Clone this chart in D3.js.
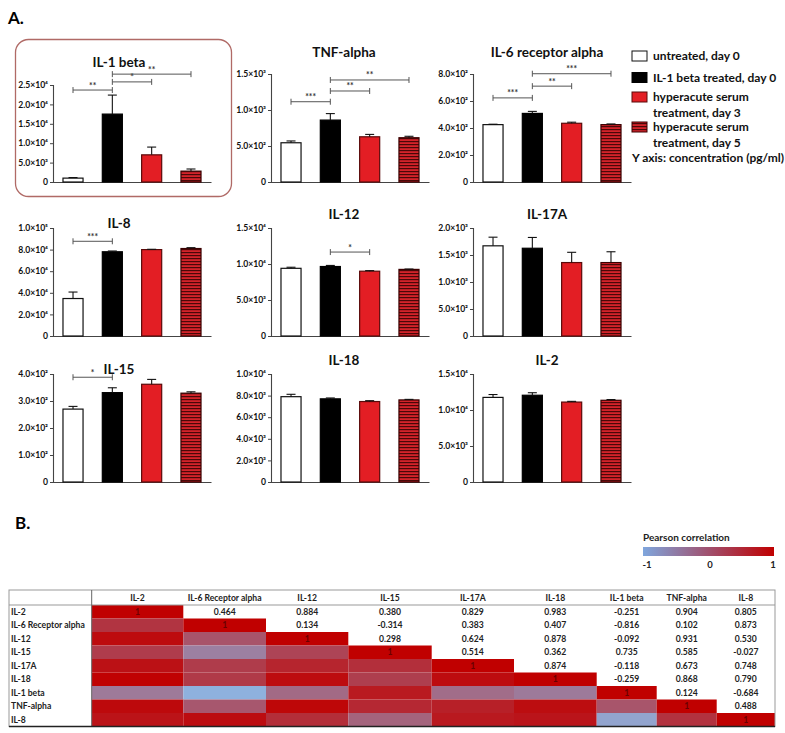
<!DOCTYPE html>
<html><head><meta charset="utf-8">
<script src="https://cdn.jsdelivr.net/npm/d3@7"></script>
<style>body{margin:0;background:#fff} svg{display:block;font-family:Lato,'Open Sans',sans-serif}</style>
</head><body><svg id="c" width="785" height="733"></svg>
<script>
// ---------------- DATA ----------------
const groups = ["untreated, day 0", "IL-1 beta treated, day 0", "hyperacute serum treatment, day 3", "hyperacute serum treatment, day 5"];
const cytokines = ["IL-1 beta", "TNF-alpha", "IL-6 receptor alpha", "IL-8", "IL-12", "IL-17A", "IL-15", "IL-18", "IL-2"];
const means = [
  [1000, 17500, 7000, 2800],
  [545, 860, 628, 615],
  [425, 508, 435, 425],
  [34700, 78000, 80000, 81000],
  [9400, 9650, 9000, 9250],
  [1670, 1625, 1360, 1360],
  [270, 331, 362, 329],
  [7900, 7700, 7450, 7600],
  [11750, 12050, 11100, 11350]
];
const errors = [
  [150, 4900, 2000, 550],
  [25, 90, 33, 20],
  [3, 15, 8, 5],
  [6000, 700, 300, 800],
  [150, 150, 80, 50],
  [160, 200, 190, 200],
  [10, 18, 18, 5],
  [220, 80, 80, 50],
  [400, 350, 100, 100]
];
const axisMax = [25000, 1500, 800, 100000, 15000, 2000, 400, 10000, 15000];
const tickStep = [5000, 500, 200, 20000, 5000, 500, 100, 2000, 5000];
const brackets = [
  {panel: 0, from: 0, to: 1, level: 23700, label: "**"},
  {panel: 0, from: 1, to: 2, level: 25800, label: "*"},
  {panel: 0, from: 1, to: 3, level: 27800, label: "**"},
  {panel: 1, from: 0, to: 1, level: 1115, label: "***"},
  {panel: 1, from: 1, to: 2, level: 1264, label: "**"},
  {panel: 1, from: 1, to: 3, level: 1417, label: "**"},
  {panel: 2, from: 0, to: 1, level: 623, label: "***"},
  {panel: 2, from: 1, to: 2, level: 710, label: "**"},
  {panel: 2, from: 1, to: 3, level: 802, label: "***"},
  {panel: 3, from: 0, to: 1, level: 87700, label: "***"},
  {panel: 4, from: 1, to: 2, level: 11660, label: "*"},
  {panel: 6, from: 0, to: 1, level: 388, label: "*"}
];
const legendLines = [["untreated, day 0"], ["IL-1 beta treated, day 0"], ["hyperacute serum", "treatment, day 3"], ["hyperacute serum", "treatment, day 5"]];
const yAxisNote = "Y axis: concentration (pg/ml)";

const corrLabels = ["IL-2", "IL-6 Receptor alpha", "IL-12", "IL-15", "IL-17A", "IL-18", "IL-1 beta", "TNF-alpha", "IL-8"];
const corrUpper = [
  [1, 0.464, 0.884, 0.380, 0.829, 0.983, -0.251, 0.904, 0.805],
  [1, 0.134, -0.314, 0.383, 0.407, -0.816, 0.102, 0.873],
  [1, 0.298, 0.624, 0.878, -0.092, 0.931, 0.530],
  [1, 0.514, 0.362, 0.735, 0.585, -0.027],
  [1, 0.874, -0.118, 0.673, 0.748],
  [1, -0.259, 0.868, 0.790],
  [1, 0.124, -0.684],
  [1, 0.488],
  [1]
];
const corrLegendTicks = [-1, 0, 1];

// ---------------- LAYOUT ----------------
const svg = d3.select("#c");
const colAxisX = [53, 271, 473];
const rowBase = [182, 336, 482];
const colTitleDX = [66, 73, 74];
const titleY = [[62, 52, 52], [223, 214, 214], [369, 360, 360]];
const fillColors = ["#ffffff", "#000000", "#e31e24", "url(#stripes)"];
const strokeColors = ["#111", "#000", "#5a0a0a", "#3a0000"];

const defs = svg.append("defs");
const pat = defs.append("pattern").attr("id", "stripes").attr("patternUnits", "userSpaceOnUse")
  .attr("width", 6).attr("height", 3);
pat.append("rect").attr("width", 6).attr("height", 3).attr("fill", "#d4232a");
pat.append("rect").attr("width", 6).attr("height", 1.2).attr("fill", "#4a0808");

// Headings
svg.append("text").attr("x", 8).attr("y", 24).attr("font-size", 17).attr("font-weight", 700).text("A.");
svg.append("text").attr("x", 15).attr("y", 529).attr("font-size", 17).attr("font-weight", 700).text("B.");

// highlight box around IL-1 beta
svg.append("rect").attr("x", 15.5).attr("y", 39.5).attr("width", 216).attr("height", 157)
  .attr("rx", 13).attr("fill", "none").attr("stroke", "#b06a66").attr("stroke-width", 1.3);

const sup = {"2": "\u00b2", "3": "\u00b3", "4": "\u2074", "5": "\u2075"};
function fmt(v) {
  if (v === 0) return "0";
  const e = Math.floor(Math.log10(v) + 1e-9);
  const m = v / Math.pow(10, e);
  return m.toFixed(1) + "\u00d710" + sup[e];
}

const scales = [];
cytokines.forEach((name, i) => {
  const col = i % 3, row = Math.floor(i / 3);
  const ax = colAxisX[col], base = rowBase[row];
  const h = i === 0 ? 97 : 108;
  const x = d3.scaleBand().domain(d3.range(4)).range([ax, ax + 158]).paddingInner(0.49).paddingOuter(0.254);
  const y = d3.scaleLinear().domain([0, axisMax[i]]).range([base, base - h]);
  scales.push({x, y});
  const g = svg.append("g");
  g.append("text").attr("x", ax + colTitleDX[col]).attr("y", titleY[row][col]).attr("dy", "0.35em")
    .attr("text-anchor", "middle").attr("font-size", 13.5).attr("font-weight", 700).attr("fill", "#111").text(name);
  const yAxis = d3.axisLeft(y).tickValues(d3.range(0, axisMax[i] + 1e-6, tickStep[i])).tickFormat(fmt).tickSize(3).tickPadding(2);
  const ya = g.append("g").attr("transform", `translate(${ax},0)`).call(yAxis);
  ya.select(".domain").attr("stroke", "#444").attr("stroke-width", 1.1);
  ya.selectAll(".tick line").attr("stroke", "#444");
  ya.selectAll(".tick text").attr("font-size", 8.6).attr("font-weight", 700).attr("fill", "#111")
    .attr("font-family", "Lato, 'Open Sans', sans-serif");
  const xAxis = d3.axisBottom(x).tickSize(0).tickFormat("");
  const xa = g.append("g").attr("transform", `translate(0,${base})`).call(xAxis);
  xa.select(".domain").attr("stroke", "#444").attr("stroke-width", 1.1);
  g.selectAll("rect.bar").data(means[i]).join("rect").attr("class", "bar")
    .attr("x", (d, k) => x(k)).attr("width", x.bandwidth())
    .attr("y", d => y(d)).attr("height", d => base - y(d))
    .attr("fill", (d, k) => fillColors[k]).attr("stroke", (d, k) => strokeColors[k]).attr("stroke-width", 1.2);
  means[i].forEach((m, k) => {
    const cx = x(k) + x.bandwidth() / 2;
    const top = y(m + errors[i][k]);
    g.append("line").attr("x1", cx).attr("x2", cx).attr("y1", y(m)).attr("y2", top).attr("stroke", "#111").attr("stroke-width", 1.1);
    g.append("line").attr("x1", cx - 4.5).attr("x2", cx + 4.5).attr("y1", top).attr("y2", top).attr("stroke", "#111").attr("stroke-width", 1.1);
  });
});

// significance brackets
brackets.forEach(b => {
  const {x, y} = scales[b.panel];
  const x1 = x(b.from) + x.bandwidth() / 2, x2 = x(b.to) + x.bandwidth() / 2, yy = y(b.level);
  const g = svg.append("g").attr("stroke", "#555").attr("stroke-width", 1);
  g.append("line").attr("x1", x1).attr("x2", x2).attr("y1", yy).attr("y2", yy);
  g.append("line").attr("x1", x1).attr("x2", x1).attr("y1", yy - 3).attr("y2", yy + 3);
  g.append("line").attr("x1", x2).attr("x2", x2).attr("y1", yy - 3).attr("y2", yy + 3);
  svg.append("text").attr("x", (x1 + x2) / 2).attr("y", yy - 1.5).attr("text-anchor", "middle")
    .attr("font-size", 8.5).attr("font-weight", 700).attr("fill", "#333").text(b.label);
});

// bar legend
const legY = [56, 77.5, 97, 127];
legendLines.forEach((lines, k) => {
  svg.append("rect").attr("x", 632).attr("y", legY[k] - 5).attr("width", 15).attr("height", 10)
    .attr("fill", fillColors[k]).attr("stroke", strokeColors[k]).attr("stroke-width", 1);
  const t = svg.append("text").attr("x", 653).attr("y", legY[k])
    .attr("font-size", 12).attr("font-weight", 700).attr("fill", "#111");
  lines.forEach((l, j) => t.append("tspan").attr("x", 653).attr("dy", j === 0 ? "0.35em" : "15.3").text(l));
});
svg.append("text").attr("x", 632).attr("y", 158).attr("dy", "0.35em").attr("font-size", 12)
  .attr("font-weight", 700).attr("fill", "#111").text(yAxisNote);

// ---------------- HEATMAP ----------------
const colEdges = [9, 91.7, 183.3, 266, 348.3, 431.7, 514, 596.7, 656.7, 716.7, 775];
const tableTop = 590, headH = 15, rowH = 13.5;
const color = d3.scaleLinear().domain([-0.85, 1]).range(["#8db4e2", "#c00000"]).interpolate(d3.interpolateRgb);
const rowY = d3.scaleBand().domain(d3.range(corrLabels.length)).range([tableTop + headH, tableTop + headH + rowH * corrLabels.length]);
const hg = svg.append("g");
const n = corrLabels.length;
function corr(i, j) { return i <= j ? corrUpper[i][j - i] : corrUpper[j][i - j]; }
for (let i = 0; i < n; i++) {
  for (let j = 0; j < n; j++) {
    const x0 = colEdges[j + 1], x1 = colEdges[j + 2];
    const v = corr(i, j);
    if (j <= i) {
      hg.append("rect").attr("x", x0).attr("y", rowY(i)).attr("width", x1 - x0).attr("height", rowY.bandwidth())
        .attr("fill", j === i ? "#c00000" : color(v));
    }
    if (j >= i) {
      hg.append("text").attr("x", (x0 + x1) / 2).attr("y", rowY(i) + rowY.bandwidth() / 2).attr("dy", "0.35em")
        .attr("text-anchor", "middle").attr("font-size", 8.6).attr("font-weight", 700)
        .attr("fill", j === i ? "#6a0000" : "#222").text(j === i ? "1" : v.toFixed(3));
    }
  }
  hg.append("text").attr("x", 11).attr("y", rowY(i) + rowY.bandwidth() / 2).attr("dy", "0.35em")
    .attr("font-size", 8.6).attr("font-weight", 700).attr("fill", "#222").text(corrLabels[i]);
}
corrLabels.forEach((l, j) => {
  hg.append("text").attr("x", (colEdges[j + 1] + colEdges[j + 2]) / 2).attr("y", tableTop + headH / 2).attr("dy", "0.35em")
    .attr("text-anchor", "middle").attr("font-size", 8.6).attr("font-weight", 700).attr("fill", "#222").text(l);
});
const tb = tableTop + headH + rowH * n;
hg.append("rect").attr("x", colEdges[0]).attr("y", tableTop).attr("width", colEdges[10] - colEdges[0]).attr("height", tb - tableTop)
  .attr("fill", "none").attr("stroke", "#999").attr("stroke-width", 1);
hg.append("line").attr("x1", colEdges[0]).attr("x2", colEdges[10]).attr("y1", tableTop + headH).attr("y2", tableTop + headH).attr("stroke", "#999");
hg.append("line").attr("x1", colEdges[1]).attr("x2", colEdges[1]).attr("y1", tableTop).attr("y2", tb).attr("stroke", "#666");
hg.append("line").attr("x1", colEdges[0]).attr("x2", colEdges[10]).attr("y1", tb).attr("y2", tb).attr("stroke", "#222").attr("stroke-width", 1.5);

// correlation legend
const lg = defs.append("linearGradient").attr("id", "cg");
lg.append("stop").attr("offset", "0%").attr("stop-color", "#7fa6dd");
lg.append("stop").attr("offset", "50%").attr("stop-color", "#a0506e");
lg.append("stop").attr("offset", "100%").attr("stop-color", "#c00000");
svg.append("text").attr("x", 643).attr("y", 537).attr("dy", "0.35em").attr("font-size", 10).attr("font-weight", 700)
  .attr("fill", "#222").text("Pearson correlation");
svg.append("rect").attr("x", 643).attr("y", 547).attr("width", 131).attr("height", 9).attr("fill", "url(#cg)");
const lx = d3.scaleLinear().domain([-1, 1]).range([647, 773]);
corrLegendTicks.forEach(t => svg.append("text").attr("x", lx(t)).attr("y", 565).attr("dy", "0.35em")
  .attr("text-anchor", "middle").attr("font-size", 9.5).attr("font-weight", 700).attr("fill", "#222").text(t));
</script></body></html>
